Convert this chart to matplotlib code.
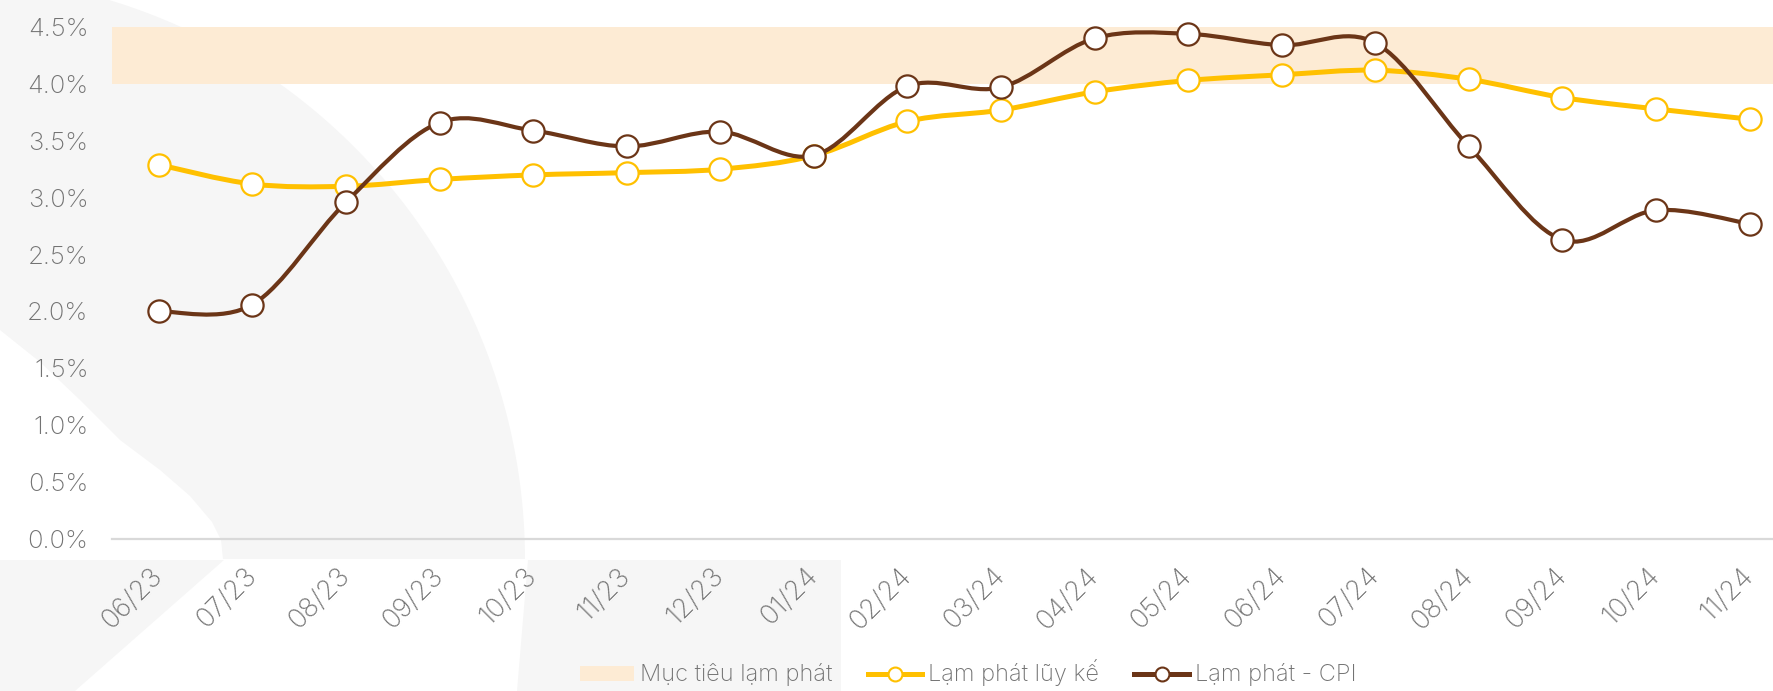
import numpy as np
import matplotlib
matplotlib.use("Agg")
import matplotlib.pyplot as plt
from matplotlib.path import Path
from matplotlib.patches import PathPatch, Polygon, Patch
from matplotlib.lines import Line2D

plt.rcParams['font.family'] = ['Inter', 'DejaVu Sans']
plt.rcParams['font.weight'] = 'light'

months = ['06/23', '07/23', '08/23', '09/23', '10/23', '11/23', '12/23', '01/24', '02/24',
          '03/24', '04/24', '05/24', '06/24', '07/24', '08/24', '09/24', '10/24', '11/24']
cumulative = [3.29, 3.12, 3.10, 3.16, 3.20, 3.22, 3.25, 3.37, 3.67,
              3.77, 3.93, 4.03, 4.08, 4.12, 4.04, 3.88, 3.78, 3.69]
cpi = [2.00, 2.06, 2.96, 3.66, 3.59, 3.45, 3.58, 3.37, 3.98,
       3.97, 4.40, 4.44, 4.34, 4.36, 3.45, 2.63, 2.89, 2.77]
target_low, target_high = 4.0, 4.5
yticks = [0, 0.5, 1.0, 1.5, 2.0, 2.5, 3.0, 3.5, 4.0, 4.5]

legend_labels = ['Mục tiêu lạm phát', 'Lạm phát lũy kế', 'Lạm phát - CPI']

GOLD = '#ffc000'
BROWN = '#6b3517'
BAND = '#fdebd4'
TXT = '#737373'
WM = '#f6f6f6'


def smooth_path(xs, ys):
    # excel-like smoothed line: cubic bezier through every point
    p = np.column_stack([xs, ys]).astype(float)
    n = len(p)
    verts = [p[0]]
    codes = [Path.MOVETO]
    for i in range(n - 1):
        p0 = p[i - 1] if i > 0 else p[i]
        p3 = p[i + 2] if i + 2 < n else p[i + 1]
        c1 = p[i] + (p[i + 1] - p0) / 6.0
        c2 = p[i + 1] - (p3 - p[i]) / 6.0
        verts += [c1, c2, p[i + 1]]
        codes += [Path.CURVE4] * 3
    return Path(verts, codes)


W, H = 1773, 691
fig = plt.figure(figsize=(W / 100, H / 100), dpi=100)

# faint watermark shapes behind the chart (pixel coords)
bg = fig.add_axes([0, 0, 1, 1], zorder=0)
bg.set_xlim(0, W)
bg.set_ylim(H, 0)
bg.axis('off')
cx, cy, r = -60, 560, 585
ang = np.linspace(np.arcsin(-560 / r), np.arcsin(-1 / r), 80)
arc = [(cx + r * np.cos(a), cy + r * np.sin(a)) for a in ang]
left_edge = [(223, 559), (221, 540), (212, 522), (190, 496), (160, 470), (120, 440),
             (80, 400), (40, 362), (0, 330)]
bg.add_patch(Polygon([(0, 0)] + arc + [(525, 559)] + left_edge, closed=True,
                     facecolor=WM, edgecolor='none'))
bg.add_patch(Polygon([(0, 560), (224, 560), (75, 691), (0, 691)], closed=True,
                     facecolor=WM, edgecolor='none'))
bg.add_patch(Polygon([(528, 560), (841, 560), (841, 691), (517, 691)], closed=True,
                     facecolor=WM, edgecolor='none'))

ax = fig.add_axes([112 / W, 1 - 539 / H, (W - 112) / W, (539 - 27) / H], zorder=2)
ax.set_facecolor('none')

x = np.arange(len(months))
ax.axhspan(target_low, target_high, color=BAND, lw=0, zorder=1)

ax.add_patch(PathPatch(smooth_path(x, cumulative), fill=False, edgecolor=GOLD,
                       lw=3.6, capstyle='round', zorder=3))
ax.plot(x, cumulative, 'o', ms=16, mfc='white', mec=GOLD, mew=1.6, zorder=4, clip_on=False)

ax.add_patch(PathPatch(smooth_path(x, cpi), fill=False, edgecolor=BROWN,
                       lw=3.0, capstyle='round', zorder=5))
ax.plot(x, cpi, 'o', ms=16, mfc='white', mec=BROWN, mew=1.6, zorder=6, clip_on=False)

ax.set_xlim(-0.5, 17.25)
ax.set_ylim(0, 4.5)
ax.set_yticks(yticks)
ax.set_yticklabels([f'{v:.1f}%' for v in yticks])
ax.set_xticks(x)
ax.set_xticklabels(months, rotation=45, ha='right', va='center', rotation_mode='anchor')
ax.tick_params(axis='y', length=0, pad=17, labelsize=18.5, labelcolor=TXT)
ax.tick_params(axis='x', length=0, pad=24, labelsize=19.5, labelcolor=TXT)

for s in ['top', 'right', 'left']:
    ax.spines[s].set_visible(False)
ax.spines['bottom'].set_color('#d9d9d9')
ax.spines['bottom'].set_linewidth(1.6)

handles = [
    Patch(facecolor=BAND, edgecolor='none'),
    Line2D([], [], color=GOLD, lw=3.6, marker='o', ms=10, mfc='white', mec=GOLD, mew=1.5),
    Line2D([], [], color=BROWN, lw=3.6, marker='o', ms=10, mfc='white', mec=BROWN, mew=1.5),
]
leg = fig.legend(handles, legend_labels, loc='center', bbox_to_anchor=(968 / W, 1 - 673 / H),
                 ncol=3, frameon=False, fontsize=17, handlelength=2.3, handleheight=0.6,
                 handletextpad=0.25, columnspacing=1.5, labelcolor=TXT, borderpad=0.2)

fig.savefig('out.png', dpi=100)
